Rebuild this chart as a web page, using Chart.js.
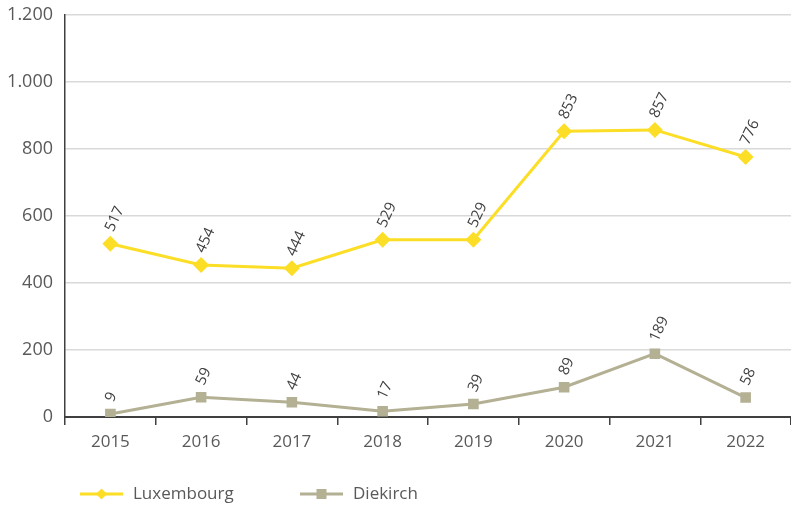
<!DOCTYPE html>
<html>
<head>
<meta charset="utf-8">
<script src="https://cdn.jsdelivr.net/npm/chart.js@4"></script>
<style>
  html, body { margin: 0; padding: 0; background: #fff; }
  #wrap { width: 791px; height: 509px; }
</style>
</head>
<body>
<div id="wrap"><canvas id="lineChart" width="791" height="509"></canvas></div>
<script>
var years = ['2015', '2016', '2017', '2018', '2019', '2020', '2021', '2022'];
var luxembourg = [517, 454, 444, 529, 529, 853, 857, 776];
var diekirch = [9, 59, 44, 17, 39, 89, 189, 58];
var seriesNames = ['Luxembourg', 'Diekirch'];
var seriesColors = ['#fbde25', '#b3b093'];

var FONT = '"Open Sans", "Liberation Sans", sans-serif';
var TEXT_GREY = '#595959';

function fmt(v) {
    return String(v).replace(/\B(?=(\d{3})+(?!\d))/g, '.');
}

// rotated value labels above every point
var valueLabels = {
    id: 'valueLabels',
    afterDatasetsDraw: function (chart) {
        var ctx = chart.ctx;
        ctx.save();
        ctx.font = '15px ' + FONT;
        ctx.fillStyle = '#404040';
        ctx.textAlign = 'left';
        ctx.textBaseline = 'middle';
        chart.data.datasets.forEach(function (ds, i) {
            chart.getDatasetMeta(i).data.forEach(function (pt, j) {
                ctx.save();
                ctx.translate(pt.x - 1, pt.y - 13);
                ctx.rotate(-65 * Math.PI / 180);
                ctx.fillText(fmt(ds.data[j]), 0, 0);
                ctx.restore();
            });
        });
        ctx.restore();
    }
};

// legend: short line with the marker on it, then the name
var lineLegend = {
    id: 'lineLegend',
    afterDraw: function (chart) {
        var ctx = chart.ctx;
        var y = 494;
        var starts = [80, 300];
        ctx.save();
        ctx.font = '17px ' + FONT;
        ctx.textBaseline = 'middle';
        chart.data.datasets.forEach(function (ds, i) {
            var x0 = starts[i];
            ctx.strokeStyle = ds.borderColor;
            ctx.lineWidth = 3;
            ctx.beginPath();
            ctx.moveTo(x0, y);
            ctx.lineTo(x0 + 43, y);
            ctx.stroke();
            ctx.fillStyle = ds.borderColor;
            var cx = x0 + 21.5;
            if (ds.pointStyle === 'rectRot') {
                ctx.beginPath();
                ctx.moveTo(cx - 5.5, y);
                ctx.lineTo(cx, y - 5.5);
                ctx.lineTo(cx + 5.5, y);
                ctx.lineTo(cx, y + 5.5);
                ctx.closePath();
                ctx.fill();
            } else {
                ctx.fillRect(cx - 5, y - 5, 10, 10);
            }
            ctx.fillStyle = TEXT_GREY;
            ctx.fillText(ds.label, x0 + 53, y);
        });
        ctx.restore();
    }
};

var ctx = document.getElementById('lineChart').getContext('2d');
var lineChart = new Chart(ctx, {
    type: 'line',
    data: {
        labels: years,
        datasets: [{
            label: seriesNames[0],
            data: luxembourg,
            borderColor: seriesColors[0],
            backgroundColor: seriesColors[0],
            borderWidth: 3,
            pointStyle: 'rectRot',
            pointRadius: 8,
            pointBorderWidth: 0,
            tension: 0
        }, {
            label: seriesNames[1],
            data: diekirch,
            borderColor: seriesColors[1],
            backgroundColor: seriesColors[1],
            borderWidth: 3,
            pointStyle: 'rect',
            pointRadius: 7.5,
            pointBorderWidth: 0,
            tension: 0
        }]
    },
    options: {
        responsive: false,
        animation: false,
        layout: { autoPadding: false, padding: { top: 15, right: 0, bottom: 52, left: 0 } },
        plugins: {
            legend: { display: false },
            tooltip: { enabled: false }
        },
        scales: {
            x: {
                offset: true,
                border: { color: '#404040', width: 2 },
                grid: {
                    offset: true,
                    drawOnChartArea: false,
                    drawTicks: true,
                    tickLength: 8,
                    color: '#404040',
                    lineWidth: 1.5
                },
                ticks: {
                    font: { family: FONT, size: 17 },
                    color: TEXT_GREY,
                    padding: 7,
                    maxRotation: 0
                },
                afterFit: function (scale) {
                    scale.height = 40;
                    scale.paddingLeft = 0;
                    scale.paddingRight = 0;
                }
            },
            y: {
                min: 0,
                max: 1200,
                border: { color: '#404040', width: 1.5 },
                grid: {
                    color: '#d9d9d9',
                    lineWidth: 1.5,
                    drawTicks: false
                },
                ticks: {
                    stepSize: 200,
                    font: { family: FONT, size: 18 },
                    color: TEXT_GREY,
                    padding: 12,
                    callback: function (v) { return fmt(v); }
                },
                afterFit: function (scale) {
                    scale.width = 65;
                    scale.paddingTop = 0;
                    scale.paddingBottom = 0;
                }
            }
        }
    },
    plugins: [valueLabels, lineLegend]
});
</script>
</body>
</html>
